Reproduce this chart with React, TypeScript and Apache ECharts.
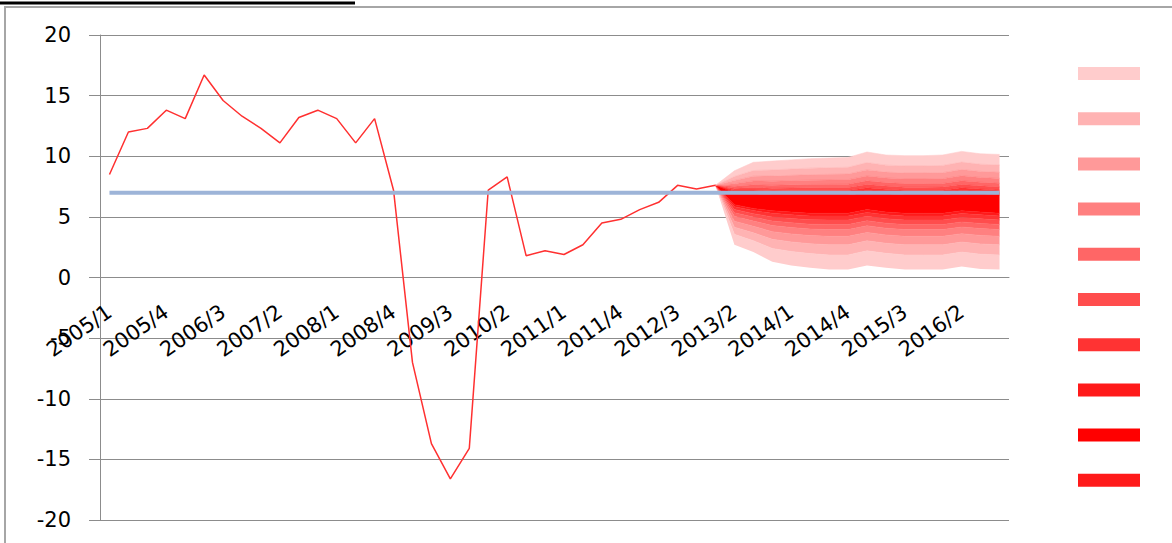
import React, { useEffect, useRef } from 'react';
import * as echarts from 'echarts';

const categories = [
  '2005/1', '2005/2', '2005/3', '2005/4', '2006/1', '2006/2', '2006/3', '2006/4',
  '2007/1', '2007/2', '2007/3', '2007/4', '2008/1', '2008/2', '2008/3', '2008/4',
  '2009/1', '2009/2', '2009/3', '2009/4', '2010/1', '2010/2', '2010/3', '2010/4',
  '2011/1', '2011/2', '2011/3', '2011/4', '2012/1', '2012/2', '2012/3', '2012/4',
  '2013/1', '2013/2', '2013/3', '2013/4', '2014/1', '2014/2', '2014/3', '2014/4',
  '2015/1', '2015/2', '2015/3', '2015/4', '2016/1', '2016/2', '2016/3', '2016/4',
];

// observed growth, 2005/1 .. 2013/1
const actualGrowth = [
  8.5, 12.0, 12.3, 13.8, 13.1, 16.7, 14.6, 13.3,
  12.3, 11.1, 13.2, 13.8, 13.1, 11.1, 13.1, 7.2,
  -7.0, -13.7, -16.6, -14.1, 7.2, 8.3, 1.8, 2.2,
  1.9, 2.7, 4.5, 4.8, 5.6, 6.2, 7.6, 7.3,
  7.6,
];

const referenceLevel = 7.0;

// fan chart, 2013/1 .. 2016/4
const fanStart = '2013/1';
const fanLower = [7.6, 2.7, 2.1, 1.3, 1.0, 0.8, 0.65, 0.65, 1.0, 0.8, 0.65, 0.65, 0.65, 0.9, 0.7, 0.65];
const fanInnerLow = [7.6, 6.0, 5.7, 5.5, 5.4, 5.3, 5.3, 5.3, 5.6, 5.4, 5.3, 5.3, 5.3, 5.5, 5.4, 5.3];
const fanInnerHigh = [7.6, 7.0, 6.9, 6.8, 6.8, 6.8, 6.8, 6.8, 7.0, 6.9, 6.8, 6.8, 6.8, 7.0, 6.9, 6.8];
const fanUpper = [7.6, 8.8, 9.5, 9.6, 9.7, 9.8, 9.85, 9.9, 10.35, 10.1, 10.05, 10.05, 10.1, 10.4, 10.2, 10.15];
// share of each band in the spread beyond the central band, outer -> inner
const bandShares = [0.26, 0.18, 0.15, 0.12, 0.09, 0.08, 0.07, 0.05];

// outer -> inner
const bandColors = ['#ffcccc', '#ffb3b3', '#ff9999', '#ff8080', '#ff6666', '#ff4d4d', '#ff3333', '#ff1a1a'];
const centerColor = '#ff0000';
const legendOrder = ['U8', 'U7', 'U6', 'U5', 'U4', 'U3', 'U2', 'U1', 'C', 'L1'];

const yMin = -20;
const yMax = 20;
const yInterval = 5;

export default function App() {
  const ref = useRef<HTMLDivElement>(null);

  useEffect(() => {
    const chart = echarts.init(ref.current as HTMLDivElement, null, { renderer: 'svg' });
    const s0 = categories.indexOf(fanStart);
    const pad = (arr: number[], start: number) =>
      categories.map((_, i) => (i >= start && i - start < arr.length ? arr[i - start] : null));

    const steps = bandColors.length;
    const centerBand = fanInnerHigh.map((v, k) => v - fanInnerLow[k]);

    const colorOf: Record<string, string> = {};
    const series: any[] = [];
    series.push({
      name: 'base', type: 'line', stack: 'fan', data: pad(fanLower, s0), symbol: 'none',
      lineStyle: { width: 0, opacity: 0 }, silent: true, z: 1,
    });
    const band = (name: string, color: string, data: number[]) => {
      colorOf[name] = color;
      series.push({
        name, type: 'line', stack: 'fan', data: pad(data, s0), symbol: 'none',
        lineStyle: { width: 0.6, color }, itemStyle: { color },
        areaStyle: { color, opacity: 1 }, silent: true, z: 1,
      });
    };
    bandColors.forEach((c, j) =>
      band('L' + (steps - j), c, fanLower.map((v, k) => (fanInnerLow[k] - v) * bandShares[j])));
    band('C', centerColor, centerBand);
    for (let j = steps - 1; j >= 0; j--)
      band('U' + (steps - j), bandColors[j], fanUpper.map((v, k) => (v - fanInnerHigh[k]) * bandShares[j]));

    series.push({
      name: 'actual', type: 'line', data: pad(actualGrowth, 0), symbol: 'none',
      lineStyle: { color: '#ff3030', width: 1.5 }, z: 3,
    });
    series.push({
      name: 'ref', type: 'line', data: categories.map(() => referenceLevel), symbol: 'none',
      lineStyle: { color: '#9db4d8', width: 4 }, z: 4,
    });

    const grey = '#8c8c8c';
    const gridTop = 35;
    const gridHeight = 485;
    const zeroOffset = -gridHeight * (0 - yMin) / (yMax - yMin);
    chart.setOption({
      animation: false,
      backgroundColor: '#ffffff',
      grid: { left: 100, top: gridTop, width: 909, height: gridHeight, containLabel: false, outerBoundsMode: 'none' },
      legend: {
        orient: 'vertical', left: 1078, top: 67, padding: 0,
        itemWidth: 62, itemHeight: 13, itemGap: 32.2, icon: 'rect',
        selectedMode: false, formatter: () => '',
        textStyle: { fontSize: 8 },
        data: legendOrder.map((n) => ({ name: n, itemStyle: { color: colorOf[n], borderWidth: 0, opacity: 1 } })),
      },
      xAxis: {
        type: 'category', data: categories, boundaryGap: true, position: 'bottom', offset: zeroOffset,
        axisLine: { onZero: false, lineStyle: { color: grey, width: 1 } },
        axisTick: { interval: 0, length: 7, lineStyle: { color: grey } },
        axisLabel: {
          interval: 2, rotate: 35, fontSize: 21, fontFamily: 'DejaVu Sans', color: '#000', margin: 32,
        },
        splitLine: { show: false },
      },
      yAxis: {
        type: 'value', min: yMin, max: yMax, interval: yInterval,
        axisLine: { show: true, lineStyle: { color: grey, width: 1 } },
        axisTick: { show: true, length: 11, lineStyle: { color: grey } },
        axisLabel: { fontSize: 21, fontFamily: 'DejaVu Sans', color: '#000', margin: 29 },
        splitLine: { show: true, lineStyle: { color: grey, width: 1 } },
      },
      graphic: [
        { type: 'rect', shape: { x: 5, y: 7, width: 1200, height: 600 }, style: { fill: 'none', stroke: '#a6a6a6', lineWidth: 2 }, silent: true },
        { type: 'line', shape: { x1: 0, y1: 3, x2: 355, y2: 3 }, style: { stroke: '#000', lineWidth: 3 }, silent: true },
      ],
      series,
    });
    return () => chart.dispose();
  }, []);

  return <div ref={ref} style={{ position: 'fixed', left: 0, top: 0, width: 1172, height: 543 }} />;
}
